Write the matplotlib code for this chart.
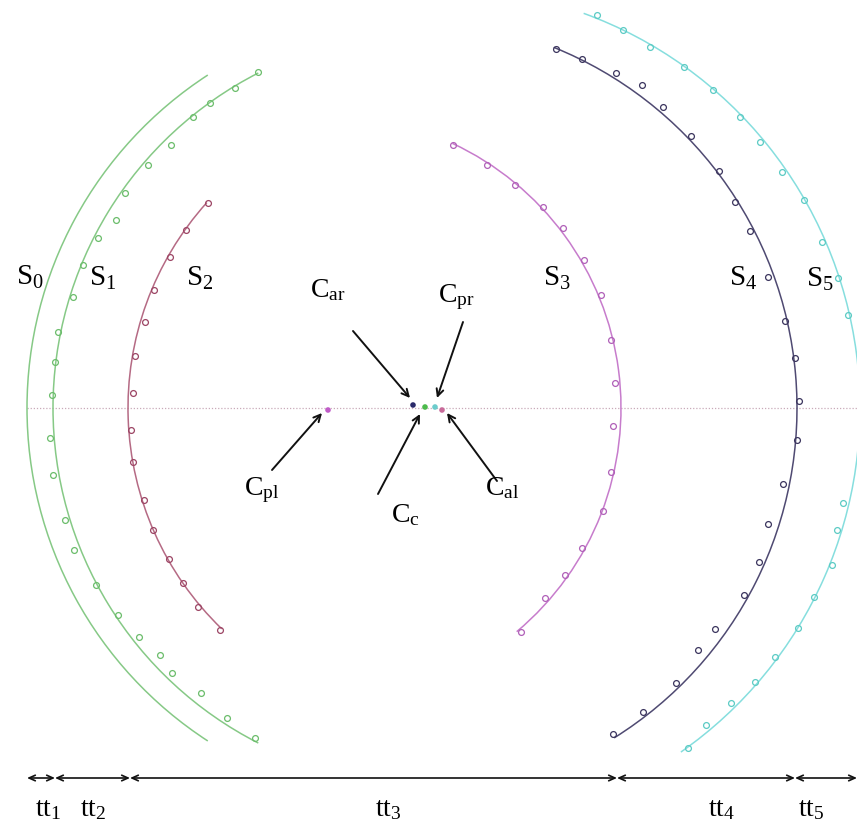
import numpy as np
import matplotlib
matplotlib.use('Agg')
import matplotlib.pyplot as plt
from matplotlib.patches import Arc

plt.rcParams['font.family'] = 'Liberation Serif'
plt.rcParams['mathtext.fontset'] = 'custom'
plt.rcParams['mathtext.rm'] = 'Liberation Serif'

# Wavefront arcs: centre, radius and angular span (degrees, data frame)
arc_names = ['S0', 'S1', 'S2', 'S3', 'S4', 'S5']
arc_cx = [424, 429, 435, 329, 408, 440]
arc_cy = [408, 408, 408, 408, 408, 408]
arc_r = [397, 376, 307, 292, 389, 420]
arc_theta1 = [123, 117, 134, -65, -68, -70]
arc_theta2 = [237, 243, 222, 50, 58, 55]

# Measured points along each wavefront
s1_x = [258, 235, 210, 193, 171, 148, 125, 116, 98, 83, 73, 58, 55, 52, 50, 53, 65, 74,
        96, 118, 139, 160, 172, 201, 227, 255]
s1_y = [72, 88, 103, 117, 145, 165, 193, 220, 238, 265, 297, 332, 362, 395, 438, 475, 520, 550,
        585, 615, 637, 655, 673, 693, 718, 738]
s2_x = [208, 186, 170, 154, 145, 135, 133, 131, 133, 144, 153, 169, 183, 198, 220]
s2_y = [203, 230, 257, 290, 322, 356, 393, 430, 462, 500, 530, 559, 583, 607, 630]
s3_x = [453, 487, 515, 543, 563, 584, 601, 611, 615, 613, 611, 603, 582, 565, 545, 521]
s3_y = [145, 165, 185, 207, 228, 260, 295, 340, 383, 426, 472, 511, 548, 575, 598, 632]
s4_x = [556, 582, 616, 642, 663, 691, 719, 735, 750, 768, 785, 795, 799, 797, 783, 768,
        759, 744, 715, 698, 676, 643, 613]
s4_y = [49, 59, 73, 85, 107, 136, 171, 202, 231, 277, 321, 358, 401, 440, 484, 524,
        562, 595, 629, 650, 683, 712, 734]
s5_x = [597, 623, 650, 684, 713, 740, 760, 782, 804, 822, 838, 848, 843, 837, 832, 814,
        798, 775, 755, 731, 706, 688]
s5_y = [15, 30, 47, 67, 90, 117, 142, 172, 200, 242, 278, 315, 503, 530, 565, 597,
        628, 657, 682, 703, 725, 748]

# Centre points
centre_names = ['pl', 'ar', 'c', 'pr', 'al']
centre_x = [328, 413, 425, 435, 442]
centre_y = [410, 405, 407, 407, 410]

# Interval boundaries along the bottom scale
tt_edges = [27, 55, 130, 617, 795, 857]
tt_labels = ['tt1', 'tt2', 'tt3', 'tt4', 'tt5']

line_colors = ['#86c986', '#86c986', '#b56a84', '#c77ccc', '#4f4a72', '#86dede']
mark_colors = ['#6bbd6b', '#9c4564', '#b060b8', '#3b355e', '#5ccbc4']

fig = plt.figure(figsize=(8.57, 8.24), dpi=100)
ax = fig.add_axes([0, 0, 1, 1])
ax.set_xlim(0, 857)
ax.set_ylim(824, 0)
ax.axis('off')

# horizontal axis through the centres
ax.plot([27, 857], [408, 408], ls=(0, (1, 1.5)), color='#c9aab9', lw=0.9, zorder=1)

for i in range(len(arc_names)):
    ax.add_patch(Arc((arc_cx[i], arc_cy[i]), 2 * arc_r[i], 2 * arc_r[i],
                     theta1=arc_theta1[i], theta2=arc_theta2[i],
                     color=line_colors[i], lw=1.1, zorder=2))

point_sets = [(s1_x, s1_y), (s2_x, s2_y), (s3_x, s3_y), (s4_x, s4_y), (s5_x, s5_y)]
for (px, py), c in zip(point_sets, mark_colors):
    ax.plot(px, py, 'o', ms=4.2, mfc='none', mec=c, mew=0.9, zorder=3)

centre_colors = ['#c05cc8', '#2a2a6a', '#4cba4c', '#6ccccc', '#c86a9a']
ax.scatter(centre_x, centre_y, s=9, c=centre_colors, zorder=4)

# wavefront labels
s_pos = [(30, 277), (103, 278), (200, 278), (557, 278), (743, 278), (820, 279)]
for name, (x, y) in zip(arc_names, s_pos):
    ax.text(x, y, r'$\mathregular{%s_{%s}}$' % (name[0], name[1:]), fontsize=21,
            ha='center', va='center')

# centre labels with arrows
c_text = {'pl': (262, 490), 'ar': (328, 290), 'c': (405, 515), 'pr': (456, 297), 'al': (502, 488)}
c_tail = {'pl': (272, 470), 'ar': (353, 331), 'c': (378, 494), 'pr': (463, 322), 'al': (497, 481)}
c_head = {'pl': (322, 413), 'ar': (410, 398), 'c': (420, 414), 'pr': (437, 398), 'al': (447, 413)}
for k in centre_names:
    ax.annotate('', xy=c_head[k], xytext=c_tail[k],
                arrowprops=dict(arrowstyle='->,head_length=0.5,head_width=0.25',
                                color='#111111', lw=1.4, shrinkA=0, shrinkB=0))
    ax.text(c_text[k][0], c_text[k][1], r'$\mathregular{C_{%s}}$' % k, fontsize=20,
            ha='center', va='center')

# interval scale
for a, b in zip(tt_edges[:-1], tt_edges[1:]):
    ax.annotate('', xy=(b, 778), xytext=(a, 778),
                arrowprops=dict(arrowstyle='<->,head_length=0.45,head_width=0.2',
                                color='#111111', lw=1.2, shrinkA=0, shrinkB=0))
tt_pos = [48, 93, 388, 722, 811]
for lab, x in zip(tt_labels, tt_pos):
    ax.text(x, 810, r'$\mathregular{tt_{%s}}$' % lab[2:], fontsize=20,
            ha='center', va='center')

fig.savefig('out.png', dpi=100)
